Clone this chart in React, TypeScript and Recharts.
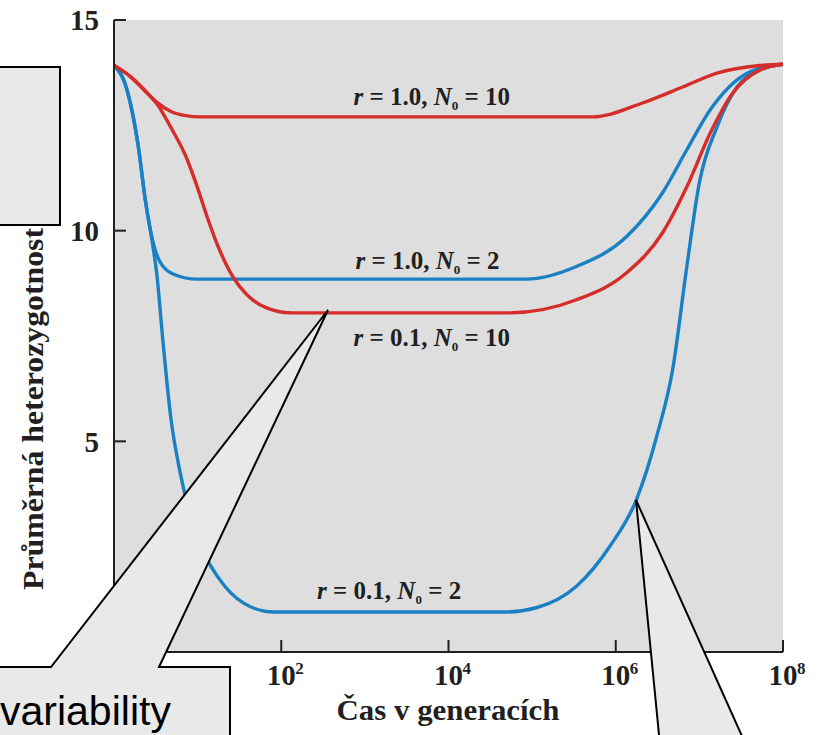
import { CartesianGrid, Line, LineChart, ReferenceDot, XAxis, YAxis } from "recharts";

// x = exponent of 10 (generations), y = mean heterozygosity
const GEN_TICKS = [2, 4, 6, 8];
const HET_TICKS = [5, 10, 15];

const R1_N10: [number, number][] = [
  [0, 13.93], [0.2, 13.65], [0.42, 13.22], [0.51, 13.05], [0.68, 12.83], [0.86, 12.73], [1.03, 12.7],
  [5.72, 12.7], [6.32, 13.03], [6.8, 13.41], [7.21, 13.74], [7.72, 13.92], [8, 13.95],
];

const R01_N10: [number, number][] = [
  [0, 13.93], [0.2, 13.65], [0.42, 13.22], [0.51, 13.02], [0.68, 12.45], [0.86, 11.76],
  [0.99, 11.07], [1.12, 10.29], [1.25, 9.6], [1.42, 8.91], [1.59, 8.48], [1.81, 8.18], [2.12, 8.05],
  [4.73, 8.05], [5.53, 8.36], [6.13, 9.0], [6.56, 9.95], [6.85, 11.04], [7.13, 12.32],
  [7.4, 13.27], [7.72, 13.81], [8, 13.95],
];

const R1_N2: [number, number][] = [
  [0, 13.93], [0.16, 13.31], [0.29, 12.01], [0.375, 10.72], [0.46, 9.78], [0.55, 9.26],
  [0.72, 8.96], [0.99, 8.85],
  [4.93, 8.85], [5.53, 9.15], [6.13, 9.86], [6.56, 10.9], [6.85, 11.92], [7.13, 12.87],
  [7.45, 13.58], [7.72, 13.86], [8, 13.95],
];

const R01_N2: [number, number][] = [
  [0, 13.93], [0.16, 13.31], [0.29, 12.01], [0.375, 10.72], [0.46, 9.7], [0.51, 9.0],
  [0.59, 7.27], [0.68, 5.55], [0.79, 4.27], [0.88, 3.48], [1.03, 2.54], [1.25, 1.76],
  [1.55, 1.16], [1.9, 0.95],
  [4.69, 0.95], [5.05, 1.05], [5.53, 1.56], [5.93, 2.51], [6.25, 3.63], [6.49, 5.12],
  [6.68, 6.7], [6.85, 9.15], [7.0, 11.14], [7.21, 12.46], [7.45, 13.41], [7.72, 13.81], [8, 13.95],
];

const RED = "#d52d2a";
const BLUE = "#1a80c4";
const INK = "#231f20";
const SERIF = '"Liberation Serif", "Times New Roman", serif';

const SERIES = [
  { key: "r01n2", points: R01_N2, color: BLUE },
  { key: "r1n2", points: R1_N2, color: BLUE },
  { key: "r01n10", points: R01_N10, color: RED },
  { key: "r1n10", points: R1_N10, color: RED },
];

const CURVE_LABELS = [
  { r: "1.0", n: "10", gen: 3.8, het: 13.18 },
  { r: "1.0", n: "2", gen: 3.75, het: 9.27 },
  { r: "0.1", n: "10", gen: 3.8, het: 7.46 },
  { r: "0.1", n: "2", gen: 3.29, het: 1.45 },
];

const toRows = (pts: [number, number][]) => pts.map(([gen, het]) => ({ gen, het }));

function GenTick({ x, y, payload }: any) {
  return (
    <g fontFamily={SERIF} fontWeight={700} fill={INK}>
      <text x={x} y={y} textAnchor="middle" fontSize={29}>
        10
      </text>
      <text x={x + 14} y={y - 11} textAnchor="start" fontSize={17}>
        {payload.value}
      </text>
    </g>
  );
}

function CurveLabel({ viewBox, r, n }: any) {
  const x = viewBox?.x ?? 0;
  const y = viewBox?.y ?? 0;
  return (
    <text
      x={x}
      y={y + 8}
      textAnchor="middle"
      fontFamily={SERIF}
      fontWeight={700}
      fontSize={25}
      fill={INK}
    >
      <tspan fontStyle="italic">r</tspan>
      {` = ${r}, `}
      <tspan fontStyle="italic">N</tspan>
      <tspan fontSize={13} dy={5}>0</tspan>
      <tspan dy={-5}>{` = ${n}`}</tspan>
    </text>
  );
}

export default function App() {
  return (
    <div style={{ position: "absolute", left: 0, top: 0, width: 819, height: 735 }}>
      <LineChart
        width={819}
        height={735}
        margin={{ top: 20, right: 36, bottom: 23, left: 54 }}
      >
        <CartesianGrid fill="#dedede" stroke="none" horizontal={false} vertical={false} />
        <XAxis
          type="number"
          dataKey="gen"
          domain={[0, 8]}
          ticks={GEN_TICKS}
          height={60}
          tickSize={-12}
          tickMargin={45}
          tick={<GenTick />}
          axisLine={{ stroke: INK, strokeWidth: 2 }}
          tickLine={{ stroke: INK, strokeWidth: 2 }}
          allowDataOverflow
        />
        <YAxis
          type="number"
          domain={[0, 15]}
          ticks={HET_TICKS}
          width={60}
          tickSize={-12}
          tickMargin={27}
          tick={{ fill: INK, fontSize: 29, fontFamily: SERIF, fontWeight: 700 }}
          axisLine={{ stroke: INK, strokeWidth: 2 }}
          tickLine={{ stroke: INK, strokeWidth: 2 }}
          allowDataOverflow
        />
        {SERIES.map((s) => (
          <Line
            key={s.key}
            data={toRows(s.points)}
            dataKey="het"
            type="monotone"
            stroke={s.color}
            strokeWidth={3.4}
            dot={false}
            isAnimationActive={false}
          />
        ))}
        {CURVE_LABELS.map((l) => (
          <ReferenceDot
            key={l.r + l.n}
            x={l.gen}
            y={l.het}
            r={0}
            fill="none"
            stroke="none"
            ifOverflow="visible"
            label={<CurveLabel r={l.r} n={l.n} />}
          />
        ))}
      </LineChart>

      {/* axis titles and the slide's callout shapes on top */}
      <svg
        width={819}
        height={735}
        style={{ position: "absolute", left: 0, top: 0, pointerEvents: "none" }}
      >
        <text
          transform="translate(32,409) rotate(-90)"
          textAnchor="middle"
          dominantBaseline="central"
          fontFamily={SERIF}
          fontWeight={700}
          fontSize={30}
          fill={INK}
          textLength={362}
          lengthAdjust="spacingAndGlyphs"
        >
          Průměrná heterozygotnost
        </text>
        <text
          x={448}
          y={720}
          textAnchor="middle"
          fontFamily={SERIF}
          fontWeight={700}
          fontSize={29}
          fill={INK}
          textLength={223}
          lengthAdjust="spacingAndGlyphs"
        >
          Čas v generacích
        </text>

        <rect x={-4} y={67} width={64} height={158} fill="#e9e9e9" stroke="#000" strokeWidth={2} />
        <path
          d="M -4 667 L 51 667 L 328 310 L 159 667 L 230 667 L 230 745 L -4 745 Z"
          fill="#e9e9e9"
          stroke="#000"
          strokeWidth={2}
          strokeLinejoin="miter"
        />
        <text x={0} y={725} fontFamily='"Liberation Sans", Arial, sans-serif' fontSize={41} fill="#000">
          variability
        </text>
        <path
          d="M 660 745 L 636 500 L 746 745 Z"
          fill="#e9e9e9"
          stroke="#000"
          strokeWidth={2}
        />
      </svg>
    </div>
  );
}
